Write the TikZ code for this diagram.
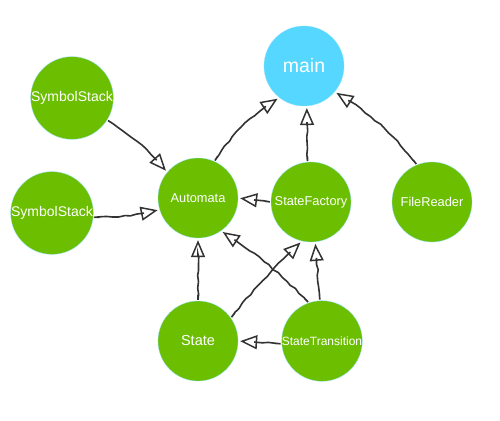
\documentclass[tikz,border=0pt]{standalone}
\usepackage{fontspec}
\setmainfont{Liberation Sans}
\usepackage{xcolor}
\usetikzlibrary{arrows.meta,decorations.pathmorphing}
\definecolor{classgreen}{RGB}{108,190,0}
\definecolor{mainblue}{RGB}{85,215,255}
\definecolor{pencil}{RGB}{50,50,50}

\begin{document}
\begin{tikzpicture}[
  x=1pt, y=-1pt,
  every node/.style={circle,fill=classgreen,draw=mainblue!70,line width=0.3pt,
    minimum size=80pt,inner sep=0pt,text=white,font=\fontsize{12.8}{14}\selectfont},
  uses/.style={draw=pencil,line width=1.6pt,line cap=round,
    -{Triangle[open,length=17pt,width=14pt,line width=1.5pt]},
    decorate,decoration={random steps,segment length=6pt,amplitude=0.8pt,
      pre length=1pt,post length=16pt},shorten <=6pt,shorten >=2pt}
]
  \pgfmathsetseed{11}
  \useasboundingbox (0,0) rectangle (500,420);
  \node[fill=mainblue,font=\fontsize{19.5}{22}\selectfont] (main) at (304,66) {main};
  \node[font=\fontsize{14}{16}\selectfont] (symbolstackA) at (72,98) {SymbolStack};
  \node[font=\fontsize{14}{16}\selectfont] (symbolstackB) at (52,213) {SymbolStack};
  \node (automata) at (198,198) {Automata};
  \node (statefactory) at (311,202) {StateFactory};
  \node (filereader) at (432,202) {FileReader};
  \node[font=\fontsize{14.5}{16}\selectfont] (state) at (198,341) {State};
  \node[font=\fontsize{12}{14}\selectfont] (statetransition) at (322,341) {StateTransition};

  \draw[uses] (symbolstackA.-32) to[bend left=8] (automata.140);
  \draw[uses] (symbolstackB.-6) to[bend right=6] (automata.197);
  \draw[uses] (automata.66) to[bend left=12] (main.-128);
  \draw[uses] (statefactory.95) -- (main.-86);
  \draw[uses] (filereader.112) to[bend right=10] (main.-40);
  \draw[uses] (statefactory.west) -- (automata.east);
  \draw[uses] (state.north) -- (automata.south);
  \draw[uses] (statetransition.109) to[bend right=6] (automata.-55);
  \draw[uses] (state.35) to[bend left=4] (statefactory.-103);
  \draw[uses] (statetransition.93) -- (statefactory.-84);
  \draw[uses] (statetransition.184) -- (state.east);
\end{tikzpicture}
\end{document}
